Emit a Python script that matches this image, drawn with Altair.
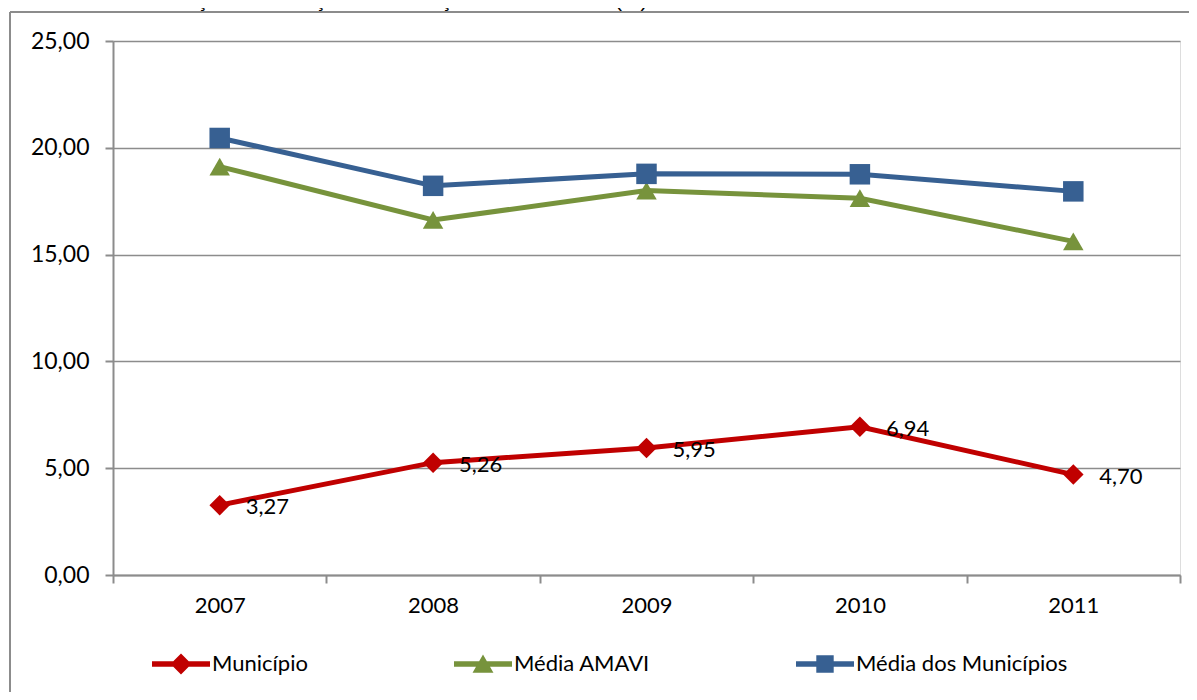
import altair as alt
import pandas as pd

years = ["2007", "2008", "2009", "2010", "2011"]
series_names = ["Município", "Média AMAVI", "Média dos Municípios"]
municipio = [3.27, 5.26, 5.95, 6.94, 4.70]
media_amavi = [19.12, 16.62, 18.00, 17.64, 15.62]
media_municipios = [20.46, 18.22, 18.78, 18.76, 17.96]
colors = ["#C00000", "#77933C", "#376092"]
marker_shapes = ["diamond", "triangle-up", "square"]
y_ticks = [0, 5, 10, 15, 20, 25]
title_bold = "Gráfico 08"
title_rest = "– Evolução do Esforço de Cobrança da Dívida Ativa (%): 2007 – 2011"

LINE = "M-1,-0.095L1,-0.095L1,0.095L-1,0.095Z"
legend_paths = [
    LINE + " M0,-0.36L0.36,0L0,0.36L-0.36,0Z",
    LINE + " M0,-0.33L0.36,0.3L-0.36,0.3Z",
    LINE + " M-0.3,-0.3L0.3,-0.3L0.3,0.3L-0.3,0.3Z",
]

rows = []
for name, vals in zip(series_names, [municipio, media_amavi, media_municipios]):
    for y, v in zip(years, vals):
        rows.append({"year": y, "series": name, "value": v})
df = pd.DataFrame(rows)

FONT = "Lato"
GRID = "#8C8C8C"

x_enc = alt.X(
    "year:O",
    scale=alt.Scale(type="band", domain=years, paddingInner=0, paddingOuter=0),
    axis=alt.Axis(
        title=None, labelAngle=0, tickBand="extent", tickSize=8, tickColor=GRID,
        tickWidth=2, domainColor=GRID, domainWidth=2, labelFont=FONT,
        labelFontSize=22, labelColor="#000000", labelPadding=12, grid=False,
    ),
)
y_enc = alt.Y(
    "value:Q",
    scale=alt.Scale(domain=[0, 25], nice=False, zero=True),
    axis=alt.Axis(
        title=None, values=y_ticks,
        labelExpr="replace(format(datum.value, '.2f'), '.', ',')",
        tickSize=8, tickColor=GRID, tickWidth=2, domainColor=GRID, domainWidth=2,
        gridColor=GRID, gridWidth=1.6, labelFont=FONT, labelFontSize=23,
        labelColor="#000000", labelPadding=16,
    ),
)
color_scale = alt.Scale(domain=series_names, range=colors)

base = alt.Chart(df)

lines = base.mark_line(strokeWidth=5).encode(
    x=x_enc, y=y_enc,
    color=alt.Color("series:N", scale=color_scale, legend=None),
)

points = base.mark_point(filled=True, opacity=1, size=420).encode(
    x=x_enc, y=y_enc,
    color=alt.Color("series:N", scale=color_scale, legend=None),
    shape=alt.Shape("series:N", scale=alt.Scale(domain=series_names, range=marker_shapes), legend=None),
)

labels = base.transform_filter(
    alt.datum.series == series_names[0]
).transform_calculate(
    label="replace(format(datum.value, '.2f'), '.', ',')"
).mark_text(
    align="left", baseline="middle", dx=26, dy=2, fontSize=22, font=FONT, color="#000000"
).encode(x=x_enc, y=y_enc, text="label:N")

legend_props = dict(
    title=None, orient="none", legendX=39, legendY=594, direction="horizontal",
    labelFont=FONT, labelFontSize=22, labelColor="#000000", symbolSize=3364,
    symbolStrokeWidth=0, labelOffset=2, columnPadding=146, symbolOpacity=1,
    labelLimit=600,
)
legend_layer = base.mark_point(filled=True, opacity=0, size=1).encode(
    x=x_enc, y=y_enc,
    fill=alt.Fill("series:N", scale=alt.Scale(domain=series_names, range=colors),
                  legend=alt.Legend(**legend_props)),
    shape=alt.Shape("series:N", scale=alt.Scale(domain=series_names, range=legend_paths),
                    legend=alt.Legend(**legend_props)),
)

one = alt.Data(values=[{"k": 1}])
frame_left = alt.Chart(one).mark_rule(color=GRID, strokeWidth=2).encode(
    x=alt.value(-103), y=alt.value(-29), y2=alt.value(800)
)
frame_top = alt.Chart(one).mark_rule(color=GRID, strokeWidth=2).encode(
    x=alt.value(-103), x2=alt.value(1300), y=alt.value(-29)
)
title1 = alt.Chart(one).mark_text(
    align="left", baseline="alphabetic", font="Liberation Sans", fontSize=21,
    fontWeight="bold", color="#000000"
).encode(x=alt.value(-105), y=alt.value(-34), text=alt.value(title_bold))
title2 = alt.Chart(one).mark_text(
    align="left", baseline="alphabetic", font="Liberation Sans", fontSize=21,
    color="#000000"
).encode(x=alt.value(14), y=alt.value(-34), text=alt.value(title_rest))

chart = alt.layer(
    frame_left, frame_top, title1, title2, lines, points, labels, legend_layer
).resolve_scale(
    shape="independent", fill="independent"
).properties(
    width=1067, height=534,
    autosize=alt.AutoSizeParams(type="none"),
    padding={"left": 105, "top": 33, "right": 9, "bottom": 117},
).configure_view(
    fill="#EEECE1", stroke=None
).configure(background="#FFFFFF")

chart.save("out.html", embed_options={"renderer": "svg", "actions": False})
